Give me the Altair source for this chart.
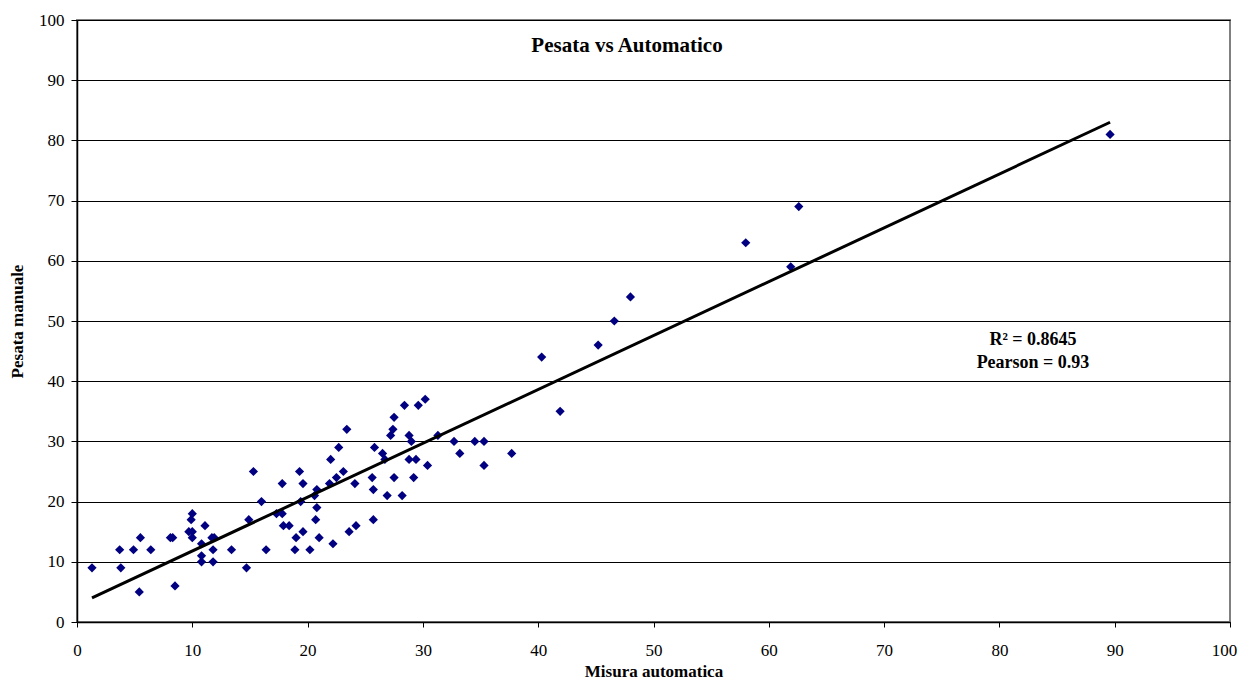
import altair as alt
import pandas as pd

misura_automatica = [
    1.3, 3.7, 3.8, 4.9, 5.4, 5.5, 6.4, 8.1, 8.3, 8.5,
    9.7, 10.0, 9.9, 10.0, 10.0, 10.8, 10.8, 10.8, 11.1, 11.7,
    11.8, 11.8, 11.9, 13.4, 14.7, 14.9, 15.3, 16.0, 16.4, 17.3,
    17.8, 17.8, 17.9, 18.4, 18.9, 19.0, 19.3, 19.4, 19.6, 19.6,
    20.2, 20.6, 20.7, 20.8, 20.8, 21.0, 22.0, 21.9, 22.2, 22.5,
    22.7, 23.1, 23.4, 23.6, 24.1, 24.2, 25.6, 25.7, 25.8, 25.7,
    26.5, 26.7, 26.9, 27.2, 27.4, 27.5, 27.5, 28.2, 28.4, 28.8,
    28.8, 29.0, 29.2, 29.4, 29.6, 30.2, 30.4, 31.3, 32.7, 33.2,
    34.5, 35.3, 35.3, 37.7, 40.3, 41.9, 45.2, 46.6, 48.0, 58.0,
    61.9, 62.6, 89.6,
]
pesata_manuale = [
    9, 12, 9, 12, 5, 14, 12, 14, 14, 6,
    15, 18, 17, 15, 14, 13, 11, 10, 16, 14,
    12, 10, 14, 12, 9, 17, 25, 20, 12, 18,
    18, 23, 16, 16, 12, 14, 25, 20, 15, 23,
    12, 21, 17, 19, 22, 14, 27, 23, 13, 24,
    29, 25, 32, 15, 23, 16, 24, 17, 29, 22,
    28, 27, 21, 31, 32, 24, 34, 21, 36, 31,
    27, 30, 24, 27, 36, 37, 26, 31, 30, 28,
    30, 30, 26, 28, 44, 35, 46, 50, 54, 63,
    59, 69, 81,
]

title_text = "Pesata vs Automatico"
stats_text = ["R\u00b2 = 0.8645", "Pearson = 0.93"]
tick_values = [0, 10, 20, 30, 40, 50, 60, 70, 80, 90, 100]

df = pd.DataFrame({"x": misura_automatica, "y": pesata_manuale})

FONT = "Liberation Serif"

xscale = alt.Scale(domain=[0, 100], nice=False, zero=True)
yscale = alt.Scale(domain=[0, 100], nice=False, zero=True)

xaxis = alt.Axis(
    title="Misura automatica", values=tick_values, grid=False, labelFlush=False,
    labelOffset={"condition": {"test": "datum.value >= 100", "value": -6}, "value": 0},
    domainColor="#000000", domainWidth=1.5, tickColor="#000000", tickSize=5,
    labelFont=FONT, labelFontSize=17, labelColor="#000000", labelPadding=15,
    titleFont=FONT, titleFontSize=17, titleFontWeight="bold", titleColor="#000000",
    titlePadding=5,
)
yaxis = alt.Axis(
    title="Pesata manuale", values=tick_values, grid=True, labelFlush=False,
    gridColor="#000000", gridWidth=1,
    domainColor="#000000", domainWidth=1.5, tickColor="#000000", tickSize=6,
    labelFont=FONT, labelFontSize=17, labelColor="#000000", labelPadding=7,
    titleFont=FONT, titleFontSize=17, titleFontWeight="bold", titleColor="#000000",
    titlePadding=12,
)

base = alt.Chart(df)

points = base.mark_point(shape="diamond", filled=True, color="#000080", size=85, opacity=1).encode(
    x=alt.X("x:Q", scale=xscale, axis=xaxis),
    y=alt.Y("y:Q", scale=yscale, axis=yaxis),
)

trend = base.transform_regression("x", "y").mark_line(color="#000000", strokeWidth=3).encode(
    x=alt.X("x:Q", scale=xscale),
    y=alt.Y("y:Q", scale=yscale),
)

title = alt.Chart(pd.DataFrame({"t": [title_text]})).mark_text(
    font=FONT, fontSize=21, fontWeight="bold", color="#000000", align="center", baseline="middle"
).encode(text="t:N", x=alt.value(550), y=alt.value(26))

stats1 = alt.Chart(pd.DataFrame({"t": [stats_text[0]]})).mark_text(
    font=FONT, fontSize=18, fontWeight="bold", color="#000000", align="center", baseline="middle"
).encode(text="t:N", x=alt.value(956), y=alt.value(320))
stats2 = alt.Chart(pd.DataFrame({"t": [stats_text[1]]})).mark_text(
    font=FONT, fontSize=18, fontWeight="bold", color="#000000", align="center", baseline="middle"
).encode(text="t:N", x=alt.value(956), y=alt.value(343))

chart = alt.layer(points, trend, title, stats1, stats2).properties(
    width=1153, height=602,
    autosize=alt.AutoSizeParams(type="none"),
    padding={"left": 69, "top": 12, "right": 8, "bottom": 58},
    background="#ffffff",
).configure_view(stroke="#808080", strokeWidth=2)

chart.save("out.html", embed_options={"renderer": "svg", "actions": False})
